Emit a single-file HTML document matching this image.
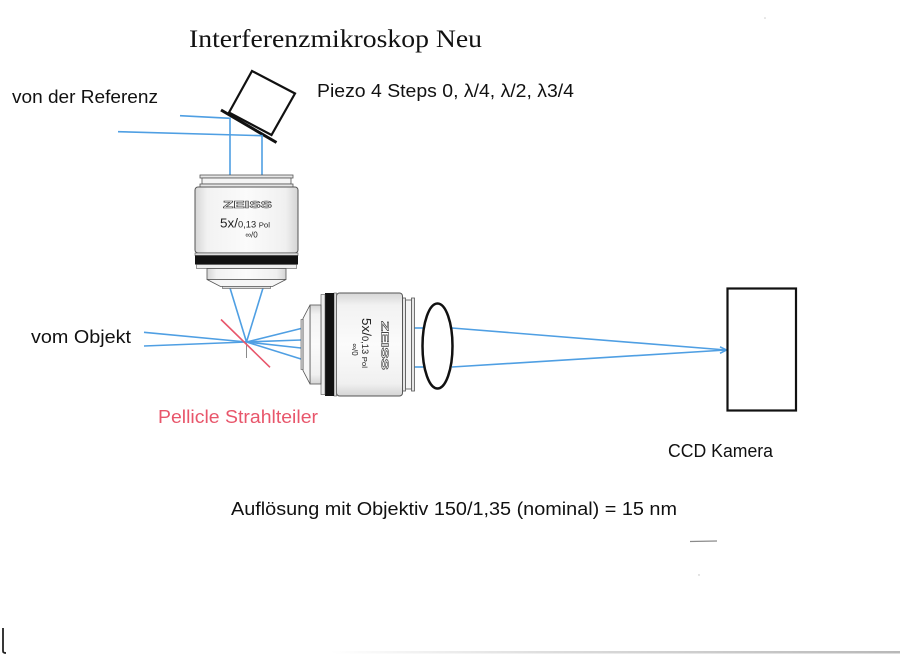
<!DOCTYPE html>
<html><head><meta charset="utf-8">
<style>
html,body{margin:0;padding:0;background:#fff;}
svg{display:block;}
text{font-family:"Liberation Sans","DejaVu Sans",sans-serif;}
</style></head>
<body>
<svg width="900" height="655" viewBox="0 0 900 655" xmlns="http://www.w3.org/2000/svg">
<defs>
 <linearGradient id="cyl" x1="0" y1="0" x2="1" y2="0">
  <stop offset="0" stop-color="#d6d6d6"/>
  <stop offset="0.12" stop-color="#f2f2f2"/>
  <stop offset="0.5" stop-color="#fbfbfb"/>
  <stop offset="0.88" stop-color="#f0f0f0"/>
  <stop offset="1" stop-color="#d4d4d4"/>
 </linearGradient>
 <linearGradient id="bot" x1="0" y1="0" x2="1" y2="0">
  <stop offset="0" stop-color="#ffffff"/>
  <stop offset="0.4" stop-color="#dcdcdc"/>
  <stop offset="1" stop-color="#b8b8b8"/>
 </linearGradient>
</defs>

<!-- Title -->
<text x="189" y="47" font-family="'Liberation Serif',serif" style="font-family:'Liberation Serif',serif" font-size="25" fill="#111" textLength="293" lengthAdjust="spacingAndGlyphs">Interferenzmikroskop Neu</text>

<!-- Labels -->
<text x="12" y="103" font-size="18" fill="#111" textLength="146" lengthAdjust="spacingAndGlyphs">von der Referenz</text>
<text x="317" y="97" font-size="18" fill="#111" textLength="257" lengthAdjust="spacingAndGlyphs">Piezo 4 Steps 0, λ/4, λ/2, λ3/4</text>
<text x="31" y="343" font-size="18" fill="#111" textLength="100" lengthAdjust="spacingAndGlyphs">vom Objekt</text>
<text x="158" y="423" font-size="18" fill="#e8566b" textLength="160" lengthAdjust="spacingAndGlyphs">Pellicle Strahlteiler</text>
<text x="668" y="457" font-size="18" fill="#111" textLength="105" lengthAdjust="spacingAndGlyphs">CCD Kamera</text>
<text x="231" y="515" font-size="18" fill="#111" textLength="446" lengthAdjust="spacingAndGlyphs">Auflösung mit Objektiv 150/1,35 (nominal) = 15 nm</text>

<!-- Piezo box and mirror -->
<polygon points="252,71 295,93.5 271.5,135 229,112.5" fill="none" stroke="#111" stroke-width="2.2" stroke-linejoin="miter"/>
<line x1="221" y1="110" x2="276.5" y2="142.5" stroke="#111" stroke-width="3"/>

<!-- Reference rays -->
<g stroke="#4f9fe3" stroke-width="1.6" fill="none">
 <polyline points="180,115.7 230,118.3 230,176"/>
 <polyline points="118,131.7 262,135.7 262,176"/>
 <!-- converging below objective 1 -->
 <line x1="230" y1="288" x2="246.5" y2="342"/>
 <line x1="263" y1="288" x2="246.5" y2="342"/>
 <!-- from object -->
 <line x1="144" y1="332.3" x2="246.5" y2="342"/>
 <line x1="144" y1="346" x2="246.5" y2="342"/>
 <!-- fan to objective 2 -->
 <line x1="246.5" y1="342" x2="301" y2="328.5"/>
 <line x1="246.5" y1="342" x2="301" y2="340"/>
 <line x1="246.5" y1="342" x2="301" y2="348"/>
 <line x1="246.5" y1="342" x2="301" y2="359"/>
 <!-- between objective 2 and lens -->
 <line x1="413" y1="328" x2="424" y2="328"/>
 <line x1="413" y1="367" x2="424" y2="367"/>
 <!-- to camera -->
 <line x1="452" y1="328" x2="726" y2="350"/>
 <line x1="452" y1="367" x2="726" y2="350"/>
 <polyline points="720,346.8 726.5,350 720,353.3"/>
</g>

<!-- small gray line at focal point -->
<line x1="246.5" y1="343" x2="246.5" y2="358" stroke="#8a8a8a" stroke-width="1"/>

<!-- Pellicle beamsplitter -->
<line x1="221" y1="319.5" x2="270" y2="367.3" stroke="#e8566b" stroke-width="1.6"/>

<!-- Objective 1 (vertical) -->
<g transform="translate(246.5,231.5)">
 <rect x="-46.5" y="-56.5" width="93" height="3" fill="#e6e6e6" stroke="#555" stroke-width="0.8"/>
 <rect x="-44.5" y="-53.5" width="89" height="6" fill="#f4f4f4" stroke="#555" stroke-width="0.8"/>
 <rect x="-46.5" y="-47.5" width="93" height="3" fill="#e6e6e6" stroke="#555" stroke-width="0.8"/>
 <rect x="-51.5" y="-44.5" width="103" height="66" rx="3" fill="url(#cyl)" stroke="#555" stroke-width="1"/>
 <rect x="-51.5" y="21.5" width="103" height="2.5" fill="#ddd" stroke="#555" stroke-width="0.6"/>
 <rect x="-51.5" y="24" width="103" height="9" fill="#111"/>
 <rect x="-50" y="33" width="100" height="4" fill="#eee" stroke="#555" stroke-width="0.6"/>
 <rect x="-39.5" y="37" width="79" height="11" fill="url(#cyl)" stroke="#555" stroke-width="0.8"/>
 <polygon points="-39.5,48 39.5,48 26,55 -26,55" fill="#f6f6f6" stroke="#555" stroke-width="0.8"/>
 <rect x="-24" y="55" width="48" height="2" fill="#ddd" stroke="#555" stroke-width="0.6"/>
 <text x="-23.5" y="-23.5" font-size="10" font-weight="bold" fill="#fff" stroke="#444" stroke-width="0.6" textLength="49" lengthAdjust="spacingAndGlyphs">ZEISS</text>
 <text x="-26.5" y="-4" fill="#222" textLength="50" lengthAdjust="spacingAndGlyphs"><tspan font-size="13">5x/</tspan><tspan font-size="9">0,13 </tspan><tspan font-size="7.5">Pol</tspan></text>
 <text x="5" y="6" font-size="8" fill="#222" text-anchor="middle">∞/0</text>
</g>

<!-- Objective 2 (horizontal, rotated) -->
<g transform="translate(358,344.5) rotate(90)">
 <rect x="-46.5" y="-56.5" width="93" height="3" fill="#e6e6e6" stroke="#555" stroke-width="0.8"/>
 <rect x="-44.5" y="-53.5" width="89" height="6" fill="#f4f4f4" stroke="#555" stroke-width="0.8"/>
 <rect x="-46.5" y="-47.5" width="93" height="3" fill="#e6e6e6" stroke="#555" stroke-width="0.8"/>
 <rect x="-51.5" y="-44.5" width="103" height="66" rx="3" fill="url(#cyl)" stroke="#555" stroke-width="1"/>
 <rect x="-51.5" y="21.5" width="103" height="2.5" fill="#ddd" stroke="#555" stroke-width="0.6"/>
 <rect x="-51.5" y="24" width="103" height="9" fill="#111"/>
 <rect x="-50" y="33" width="100" height="4" fill="#eee" stroke="#555" stroke-width="0.6"/>
 <rect x="-39.5" y="37" width="79" height="11" fill="url(#cyl)" stroke="#555" stroke-width="0.8"/>
 <polygon points="-39.5,48 39.5,48 26,55 -26,55" fill="#f6f6f6" stroke="#555" stroke-width="0.8"/>
 <rect x="-25" y="55" width="50" height="2" fill="#ddd" stroke="#555" stroke-width="0.6"/>
 <text x="-23.5" y="-23.5" font-size="10" font-weight="bold" fill="#fff" stroke="#444" stroke-width="0.6" textLength="49" lengthAdjust="spacingAndGlyphs">ZEISS</text>
 <text x="-26.5" y="-4" fill="#222" textLength="50" lengthAdjust="spacingAndGlyphs"><tspan font-size="13">5x/</tspan><tspan font-size="9">0,13 </tspan><tspan font-size="7.5">Pol</tspan></text>
 <text x="5" y="6" font-size="8" fill="#222" text-anchor="middle">∞/0</text>
</g>

<!-- Lens -->
<ellipse cx="437.5" cy="346" rx="15" ry="42.5" fill="none" stroke="#111" stroke-width="2.5"/>

<!-- CCD camera -->
<rect x="727.5" y="288.5" width="68.5" height="122" fill="none" stroke="#111" stroke-width="2.2"/>

<!-- scan artifacts -->
<line x1="690" y1="541.5" x2="717" y2="541" stroke="#8a8a8a" stroke-width="1.2"/>
<circle cx="699" cy="575" r="0.7" fill="#bbb"/>
<circle cx="765" cy="18" r="0.8" fill="#ccc"/>
<path d="M3,628 L3,651 Q3,653 6,653" fill="none" stroke="#222" stroke-width="1.8"/>
<rect x="330" y="651" width="570" height="2.5" fill="url(#bot)"/>
</svg>
</body></html>
